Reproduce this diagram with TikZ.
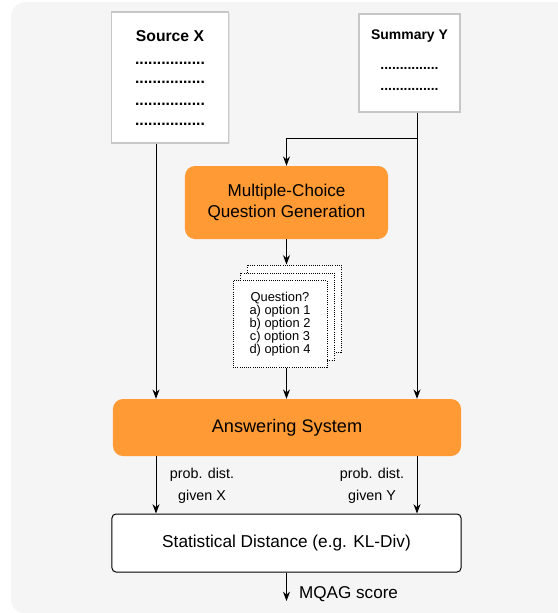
\documentclass[tikz,border=0pt]{standalone}
\usepackage{fontspec}
\setmainfont{Liberation Sans}
\usetikzlibrary{arrows.meta}
\usetikzlibrary{shadows}
\definecolor{bggray}{HTML}{F5F5F5}
\definecolor{mqorange}{HTML}{FF9A35}
\tikzset{
  doc/.style= {draw=black!22, line width=1.2pt, fill=white, drop shadow={opacity=0.12, shadow xshift=1pt, shadow yshift=-1pt}},
  obox/.style= {fill=mqorange, rounded corners=0.3cm, align=center},
  wbox/.style= {draw, fill=white, line width=0.85pt, rounded corners=0.12cm},
  page/.style= {draw, densely dotted, fill=white, line width=0.85pt, minimum width=2.82cm, minimum height=2.61cm},
  conn/.style= {-{Stealth[length=8pt,width=6pt]}, line width=0.85pt},
  lbl/.style= {font=\fontsize{12.2}{18.7}\selectfont, align=center},
}

\begin{document}
\begin{tikzpicture}[x=0.03cm, y=-0.03cm]
  \useasboundingbox (0,0) rectangle (558,613);
  \begin{scope}
    \clip (0,0) rectangle (558,613);
    \fill[bggray, rounded corners=0.45cm] (11,2) rectangle (600,614);
  \end{scope}

  % documents
  \node [doc, minimum width=3.51cm, minimum height=3.93cm] (src) at (170,77.5) {};
  \node [anchor=base, font=\fontsize{13.4}{16}\selectfont\bfseries] (srct) at (170,41) {Source X};
  \node [anchor=base, font=\fontsize{13.4}{16}\selectfont\bfseries] (srcd1) at (170,64) {................};
  \node [anchor=base, font=\fontsize{13.4}{16}\selectfont\bfseries] (srcd2) at (170,83) {................};
  \node [anchor=base, font=\fontsize{13.4}{16}\selectfont\bfseries] (srcd3) at (170,105) {................};
  \node [anchor=base, font=\fontsize{13.4}{16}\selectfont\bfseries] (srcd4) at (170,125) {................};

  \node [doc, minimum width=3.03cm, minimum height=2.94cm] (summ) at (409.5,63) {};
  \node [anchor=base, font=\fontsize{11.9}{14}\selectfont\bfseries] (summt) at (409.5,39) {Summary Y};
  \node [anchor=base, font=\fontsize{11.9}{14}\selectfont\bfseries] (summd1) at (409.5,69) {...............};
  \node [anchor=base, font=\fontsize{11.9}{14}\selectfont\bfseries] (summd2) at (409.5,90) {...............};

  % boxes
  \node [obox, minimum width=6.09cm, minimum height=2.19cm, font=\fontsize{14.6}{17.9}\selectfont] (mcqg) at (286.5,202.5) {Multiple-Choice\\Question Generation};

  \node [page] (q3) at (294,308.5) {};
  \node [page] (q2) at (287.5,316.5) {};
  \node [page, align=center, font=\fontsize{11}{9.8}\selectfont] (q1) at (280,324) {Question?\\a) option 1\\b) option 2\\c) option 3\\d) option 4};

  \node [obox, minimum width=10.44cm, minimum height=1.71cm, font=\fontsize{15.5}{18}\selectfont] (ans) at (287,427.5) {Answering System};
  \node [wbox, minimum width=10.47cm, minimum height=1.74cm, font=\fontsize{14.7}{18}\selectfont] (dist) at (286.5,543) {Statistical Distance (e.g. KL-Div)};

  \coordinate (sx) at (156,143);
  \coordinate (sy) at (417,138);
  \coordinate (out) at (286.5,601);
  \node [anchor=west, font=\fontsize{14.6}{18}\selectfont] (score) at (295,594) {MQAG score};

  % connectors
  \draw [conn] (src.south -| sx) -- (ans.north -| sx);
  \draw [conn] (summ.south -| sy) -- (ans.north -| sy);
  \draw [conn] (sy) -| (mcqg.north);
  \draw [conn] (mcqg.south) -- (mcqg.south |- q3.north);
  \draw [conn] (q1.south -| mcqg.south) -- (ans.north -| mcqg.south);
  \draw [conn] (ans.south -| sx) -- (dist.north -| sx);
  \draw [conn] (ans.south -| sy) -- (dist.north -| sy);
  \draw [conn] (dist.south -| out) -- (out);

  \node [lbl] (px) at (202,486) {prob. dist.\\given X};
  \node [lbl] (py) at (372,486) {prob. dist.\\given Y};
\end{tikzpicture}
\end{document}
